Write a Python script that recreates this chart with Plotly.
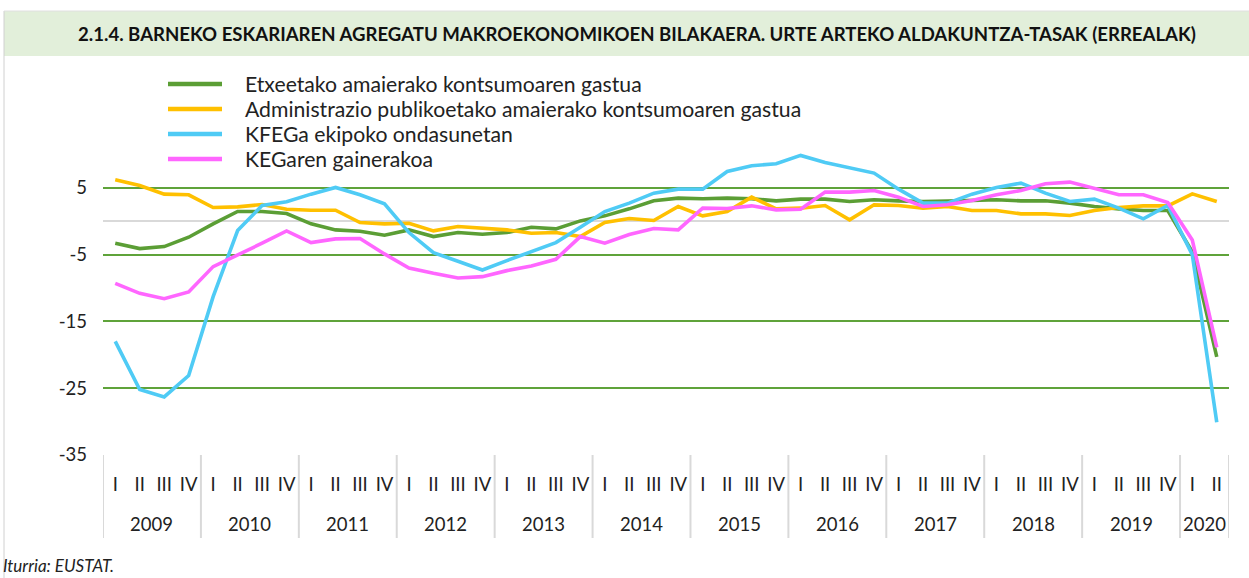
import plotly.graph_objects as go

years = ["2009", "2010", "2011", "2012", "2013", "2014", "2015", "2016",
         "2017", "2018", "2019", "2020"]
quarters = ["I", "II", "III", "IV"]

year_cat = []
quarter_cat = []
for y in years:
    qs = quarters if y != "2020" else quarters[:2]
    for q in qs:
        year_cat.append(y)
        quarter_cat.append(q)
xidx = list(range(len(quarter_cat)))

etxeetako = [-3.3, -4.1, -3.8, -2.4,
             -0.4, 1.45, 1.45, 1.15,
             -0.4, -1.3, -1.5, -2.1,
             -1.3, -2.3, -1.7, -1.95,
             -1.7, -0.9, -1.15, 0.05,
             0.8, 1.85, 3.05, 3.45,
             3.35, 3.45, 3.35, 3.05,
             3.3, 3.3, 2.95, 3.2,
             3.05, 2.95, 3.0, 3.1,
             3.2, 3.05, 3.05, 2.7,
             2.2, 1.85, 1.6, 1.6,
             -4.6, -20.3]

administrazio = [6.2, 5.35, 4.05, 3.95,
                 2.05, 2.15, 2.5, 1.8,
                 1.65, 1.65, -0.2, -0.4,
                 -0.3, -1.45, -0.8, -1.0,
                 -1.3, -1.8, -1.7, -2.3,
                 -0.2, 0.4, 0.1, 2.2,
                 0.8, 1.45, 3.6, 1.85,
                 1.95, 2.35, 0.2, 2.45,
                 2.35, 1.95, 2.2, 1.6,
                 1.6, 1.1, 1.1, 0.85,
                 1.6, 2.05, 2.3, 2.3,
                 4.1, 2.95]

kfega = [-18.0, -25.2, -26.3, -23.1,
         -11.3, -1.4, 2.35, 2.9,
         4.05, 5.05, 3.95, 2.6,
         -1.7, -4.7, -6.0, -7.3,
         -5.9, -4.5, -3.2, -0.9,
         1.45, 2.7, 4.2, 4.8,
         4.8, 7.45, 8.3, 8.6,
         9.85, 8.8, 7.95, 7.2,
         4.8, 2.7, 2.7, 4.05,
         5.05, 5.7, 4.2, 2.95,
         3.3, 1.95, 0.35, 2.35,
         -5.0, -30.1]

kegaren = [-9.3, -10.8, -11.6, -10.6,
           -6.8, -5.1, -3.3, -1.45,
           -3.2, -2.65, -2.6, -4.9,
           -7.0, -7.8, -8.5, -8.3,
           -7.4, -6.7, -5.7, -2.3,
           -3.3, -2.0, -1.1, -1.3,
           1.95, 1.9, 2.3, 1.7,
           1.8, 4.35, 4.35, 4.6,
           3.6, 2.2, 2.45, 3.1,
           3.95, 4.6, 5.6, 5.85,
           4.95, 3.95, 3.95, 2.8,
           -2.8, -18.9]

series_names = ["Etxeetako amaierako kontsumoaren gastua",
                "Administrazio publikoetako amaierako kontsumoaren gastua",
                "KFEGa ekipoko ondasunetan",
                "KEGaren gainerakoa"]
series_values = [etxeetako, administrazio, kfega, kegaren]
series_colors = ["#5B9E35", "#FFC000", "#4FCBF5", "#FF66FF"]

ytick_vals = [-35, -25, -15, -5, 5]
title_text = "2.1.4. BARNEKO ESKARIAREN AGREGATU MAKROEKONOMIKOEN BILAKAERA. URTE ARTEKO ALDAKUNTZA-TASAK (ERREALAK)"
source_text = "Iturria: EUSTAT."

FONT = "Lato"
TXT = "#222222"

fig = go.Figure()
for name, vals, col in zip(series_names, series_values, series_colors):
    fig.add_trace(go.Scatter(
        x=xidx, y=vals, name=name, mode="lines",
        line=dict(color=col, width=3.6), showlegend=False,
        hovertemplate="%{y}<extra>" + name + "</extra>"))

# plot-area geometry (pixels)
W, H = 1249, 578
L, R, T, B = 103, 20, 121, 123
pw, ph = W - L - R, H - T - B

def px(x):
    return (x - L) / pw

def py(y):
    return (H - B - y) / ph

shapes = [
    dict(type="rect", xref="paper", yref="paper",
         x0=px(4), x1=px(1249), y0=py(56), y1=py(11),
         fillcolor="#E2EFDA", line=dict(width=0), layer="below"),
    dict(type="line", xref="paper", yref="paper",
         x0=px(4), x1=px(4), y0=py(578), y1=py(11),
         line=dict(color="#D0D0D0", width=1)),
    dict(type="line", xref="paper", yref="paper",
         x0=px(4), x1=px(1249), y0=py(11), y1=py(11),
         line=dict(color="#E0E0E0", width=1)),
]

annotations = [
    dict(text="<b>" + title_text + "</b>", xref="paper", yref="paper",
         x=px(637), y=py(34), xanchor="center", yanchor="middle",
         showarrow=False, font=dict(family=FONT, size=18.6, color="#111111")),
    dict(text="<i>" + source_text + "</i>", xref="paper", yref="paper",
         x=px(1), y=py(565), xanchor="left", yanchor="middle",
         showarrow=False, font=dict(family=FONT, size=17, color=TXT)),
]

# year group dividers and labels
start = 0
bounds = [-0.5]
for y in years:
    n = year_cat.count(y)
    center = start + (n - 1) / 2
    annotations.append(dict(text=y, xref="x", yref="paper", x=center,
                            y=py(524), xanchor="center", yanchor="middle",
                            showarrow=False,
                            font=dict(family=FONT, size=18.5, color=TXT)))
    start += n
    bounds.append(start - 0.5)
for b in bounds:
    shapes.append(dict(type="line", xref="x", yref="paper", x0=b, x1=b,
                       y0=py(538), y1=py(455),
                       line=dict(color="#D9D9D9", width=2)))

# legend (drawn to match the original layout)
leg_rows = [84, 109, 134, 159]
for name, col, yy in zip(series_names, series_colors, leg_rows):
    shapes.append(dict(type="line", xref="paper", yref="paper",
                       x0=px(168), x1=px(222), y0=py(yy), y1=py(yy),
                       line=dict(color=col, width=4.5)))
    annotations.append(dict(text=name, xref="paper", yref="paper",
                            x=px(243), y=py(yy), xanchor="left",
                            yanchor="middle", showarrow=False,
                            font=dict(family=FONT, size=21.2, color=TXT)))

fig.update_layout(
    width=W, height=H,
    margin=dict(l=L, r=R, t=T, b=B, pad=0),
    paper_bgcolor="white", plot_bgcolor="white",
    font=dict(family=FONT, size=18.5, color=TXT),
    showlegend=False,
    xaxis=dict(range=[-0.5, len(xidx) - 0.5], tickvals=xidx,
               ticktext=quarter_cat, tickangle=0, showgrid=False,
               zeroline=False, showline=False, ticks="",
               ticklabelstandoff=16,
               tickfont=dict(family=FONT, size=18.5, color=TXT)),
    yaxis=dict(range=[-35, 15], tickvals=ytick_vals,
               ticktext=[str(v) for v in ytick_vals],
               showgrid=True, gridcolor="#5FA33A", gridwidth=2,
               zeroline=True, zerolinecolor="#D9D9D9", zerolinewidth=2,
               showline=False, ticks="", ticklabelstandoff=15,
               tickfont=dict(family=FONT, size=18.5, color=TXT)),
    shapes=shapes,
    annotations=annotations,
)

fig.write_html("out.html",
               config={"displayModeBar": False},
               post_script="document.body.style.margin='0px';"
                           "document.body.style.overflow='hidden';")
